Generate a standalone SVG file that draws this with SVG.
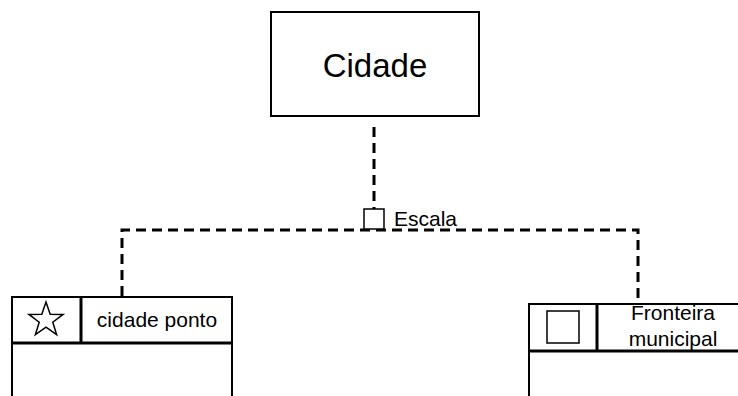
<svg xmlns="http://www.w3.org/2000/svg" width="738" height="396" viewBox="0 0 738 396">
<style>
text{font-family:"Liberation Sans",Arial,sans-serif;fill:#000}
.box{fill:#fff;stroke:#000;stroke-width:2}
.ln{stroke:#000;stroke-width:3;fill:none}
.dash{stroke:#000;stroke-width:3;fill:none;stroke-dasharray:10 6}
.lbl{font-size:21px}
</style>
<rect width="738" height="396" fill="#fff"/>
<g id="cidade">
<rect class="box" x="271" y="12" width="208" height="104" stroke-width="1.5"/>
<text x="375" y="77" font-size="33" text-anchor="middle">Cidade</text>
</g>
<g id="connectors">
<path class="dash" d="M374 127 V209"/>
<path class="dash" d="M122 296 V230 H638 V298"/>
<rect x="364" y="209" width="20" height="20" fill="#fff" stroke="#000" stroke-width="1.5"/>
<text class="lbl" x="394" y="226">Escala</text>
</g>
<g id="cidade-ponto">
<rect class="box" x="12" y="297" width="220" height="110"/>
<path class="ln" d="M12 343 H232 M81 297 V343"/>
<polygon points="46,302 50.2,314.2 63.1,314.4 52.8,322.2 56.6,334.6 46,327.2 35.4,334.6 39.2,322.2 28.9,314.4 41.8,314.2" fill="none" stroke="#000" stroke-width="1.5"/>
<text class="lbl" x="157" y="327" text-anchor="middle">cidade ponto</text>
</g>
<g id="fronteira-municipal">
<rect class="box" x="529" y="304" width="230" height="110"/>
<path class="ln" d="M529 351 H740 M597 304 V351"/>
<rect x="547" y="311" width="32" height="32" fill="none" stroke="#000" stroke-width="1.5"/>
<text class="lbl" x="673" y="320" text-anchor="middle">Fronteira</text>
<text class="lbl" x="673" y="346" text-anchor="middle">municipal</text>
</g>
</svg>
